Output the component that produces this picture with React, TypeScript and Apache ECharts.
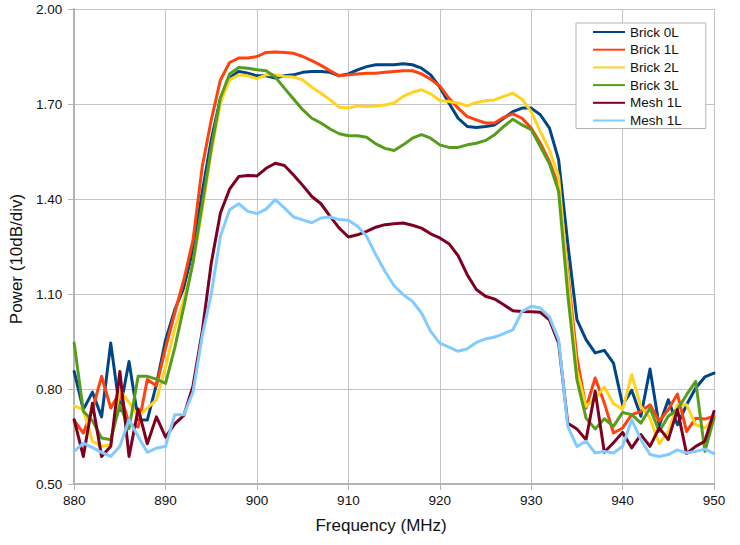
import React, { useEffect, useRef } from "react";
import * as echarts from "echarts";

const FREQ = [
  880, 881, 882, 883, 884, 885, 886, 887, 888, 889,
  890, 891, 892, 893, 894, 895, 896, 897, 898, 899,
  900, 901, 902, 903, 904, 905, 906, 907, 908, 909,
  910, 911, 912, 913, 914, 915, 916, 917, 918, 919,
  920, 921, 922, 923, 924, 925, 926, 927, 928, 929,
  930, 931, 932, 933, 934, 935, 936, 937, 938, 939,
  940, 941, 942, 943, 944, 945, 946, 947, 948, 949,
  950,
];

const BRICK_0L = [
  0.855, 0.735, 0.79, 0.712, 0.945, 0.732, 0.887, 0.703, 0.702, 0.815,
  0.955, 1.05, 1.12, 1.24, 1.42, 1.587, 1.718, 1.782, 1.803, 1.797,
  1.789, 1.789, 1.782, 1.789, 1.792, 1.8, 1.803, 1.803, 1.8, 1.789,
  1.795, 1.808, 1.818, 1.824, 1.824, 1.824, 1.827, 1.824, 1.813, 1.792,
  1.753, 1.703, 1.655, 1.629, 1.626, 1.629, 1.634, 1.655, 1.676, 1.687,
  1.687, 1.666, 1.624, 1.524, 1.26, 1.019, 0.956, 0.914, 0.922, 0.882,
  0.75, 0.796, 0.714, 0.863, 0.684, 0.766, 0.687, 0.75, 0.803, 0.838,
  0.85,
];

const BRICK_1L = [
  0.701, 0.661, 0.735, 0.84, 0.74, 0.79, 0.69, 0.68, 0.83, 0.81,
  0.93, 1.04, 1.145, 1.27, 1.5, 1.65, 1.776, 1.831, 1.845, 1.845,
  1.85, 1.863, 1.864, 1.863, 1.86, 1.85, 1.837, 1.822, 1.805, 1.789,
  1.792, 1.795, 1.797, 1.797, 1.8, 1.803, 1.805, 1.805, 1.795, 1.778,
  1.757, 1.718, 1.687, 1.66, 1.65, 1.64, 1.64, 1.658, 1.669, 1.655,
  1.624, 1.576, 1.518, 1.44, 1.17, 0.9, 0.74, 0.835, 0.756, 0.661,
  0.677, 0.719, 0.729, 0.75, 0.698, 0.735, 0.784, 0.666, 0.708, 0.705,
  0.714,
];

const BRICK_2L = [
  0.747, 0.735, 0.635, 0.619, 0.624, 0.8, 0.758, 0.713, 0.74, 0.766,
  0.87, 0.99, 1.082, 1.198, 1.366, 1.55, 1.703, 1.776, 1.792, 1.789,
  1.78, 1.792, 1.792, 1.787, 1.785, 1.776, 1.753, 1.734, 1.713, 1.69,
  1.687, 1.694, 1.692, 1.694, 1.697, 1.703, 1.724, 1.737, 1.745, 1.732,
  1.711, 1.708, 1.703, 1.694, 1.705, 1.71, 1.713, 1.724, 1.734, 1.715,
  1.676, 1.613, 1.555, 1.471, 1.15, 0.86, 0.745, 0.771, 0.806, 0.754,
  0.735, 0.845, 0.745, 0.708, 0.627, 0.666, 0.75, 0.75, 0.687, 0.677,
  0.708,
];

const BRICK_3L = [
  0.945, 0.73, 0.7, 0.645, 0.64, 0.75, 0.675, 0.84, 0.84, 0.831,
  0.818, 0.93, 1.06, 1.2, 1.38, 1.56, 1.72, 1.795, 1.815, 1.813,
  1.808, 1.805, 1.785, 1.75, 1.716, 1.682, 1.655, 1.64, 1.621, 1.606,
  1.6, 1.6, 1.595, 1.574, 1.56, 1.553, 1.571, 1.592, 1.603, 1.592,
  1.571, 1.563, 1.563, 1.571, 1.576, 1.585, 1.603, 1.629, 1.652, 1.634,
  1.619, 1.566, 1.511, 1.424, 1.1, 0.83, 0.708, 0.674, 0.706, 0.682,
  0.726, 0.719, 0.692, 0.74, 0.666, 0.714, 0.735, 0.782, 0.824, 0.603,
  0.708,
];

const MESH_1L_A = [
  0.703, 0.587, 0.755, 0.587, 0.619, 0.855, 0.587, 0.737, 0.627, 0.712,
  0.648, 0.69, 0.717, 0.81, 0.98, 1.198, 1.356, 1.431, 1.471, 1.474,
  1.473, 1.497, 1.513, 1.506, 1.476, 1.443, 1.408, 1.385, 1.345, 1.308,
  1.28, 1.287, 1.298, 1.311, 1.319, 1.322, 1.324, 1.317, 1.308, 1.29,
  1.277, 1.259, 1.221, 1.161, 1.114, 1.093, 1.084, 1.066, 1.047, 1.045,
  1.044, 1.042, 1.018, 0.945, 0.692, 0.674, 0.64, 0.793, 0.6, 0.63,
  0.663, 0.614, 0.656, 0.619, 0.677, 0.64, 0.735, 0.596, 0.619, 0.635,
  0.729,
];

const MESH_1L_B = [
  0.603, 0.629, 0.615, 0.6, 0.587, 0.619, 0.703, 0.65, 0.6, 0.613,
  0.619, 0.719, 0.719, 0.79, 0.966, 1.1, 1.282, 1.366, 1.385, 1.361,
  1.354, 1.368, 1.398, 1.372, 1.343, 1.334, 1.325, 1.34, 1.343, 1.335,
  1.333, 1.314, 1.282, 1.224, 1.172, 1.126, 1.098, 1.077, 1.04, 0.982,
  0.945, 0.932, 0.919, 0.927, 0.947, 0.958, 0.964, 0.975, 0.987, 1.045,
  1.061, 1.056, 1.027, 0.956, 0.682, 0.619, 0.635, 0.598, 0.603, 0.598,
  0.619, 0.703, 0.64, 0.593, 0.587, 0.593, 0.608, 0.598, 0.603, 0.61,
  0.596,
];

const SERIES_NAMES = ["Brick 0L", "Brick 1L", "Brick 2L", "Brick 3L", "Mesh 1L", "Mesh 1L "];
const SERIES_DATA = [BRICK_0L, BRICK_1L, BRICK_2L, BRICK_3L, MESH_1L_A, MESH_1L_B];
const COLORS = ["#004586", "#ff420e", "#ffd320", "#579d1c", "#7e0021", "#83caff"];

const X_NAME = "Frequency (MHz)";
const Y_NAME = "Power (10dB/div)";

const FONT = "'Liberation Sans', Arial, sans-serif";

export default function App() {
  const ref = useRef<HTMLDivElement>(null);

  useEffect(() => {
    if (!ref.current) return;
    const chart = echarts.init(ref.current, undefined, { renderer: "svg" });
    const series = SERIES_DATA.map((vals, i) => ({
      name: SERIES_NAMES[i],
      type: "line",
      data: FREQ.map((f, j) => [f, vals[j]]),
      symbol: "none",
      smooth: false,
      lineStyle: { color: COLORS[i], width: 3, join: "round", cap: "round" },
      itemStyle: { color: COLORS[i] },
      emphasis: { disabled: true },
    }));
    chart.setOption({
      animation: false,
      backgroundColor: "#ffffff",
      textStyle: { fontFamily: FONT },
      grid: { left: 70, right: 26, top: 9, bottom: 61, containLabel: false },
      legend: {
        orient: "vertical",
        left: 576,
        top: 23,
        padding: [2, 24, 1, 17],
        itemGap: 3.7,
        itemWidth: 32,
        itemHeight: 2,
        icon: "rect",
        backgroundColor: "#ffffff",
        borderColor: "#b3b3b3",
        borderWidth: 1,
        textStyle: { fontSize: 13.5, color: "#111", fontFamily: FONT, lineHeight: 14 },
        data: SERIES_NAMES,
        formatter: (n: string) => n.trim(),
      },
      xAxis: {
        type: "value",
        min: 880,
        max: 950,
        interval: 10,
        name: X_NAME,
        nameLocation: "middle",
        nameGap: 33,
        nameTextStyle: { fontSize: 17, color: "#111", fontFamily: FONT, padding: [0, 26, 0, 0] },
        axisLine: { show: true, lineStyle: { color: "#b3b3b3", width: 2 } },
        axisTick: { show: true, length: 6, lineStyle: { color: "#b3b3b3", width: 1 } },
        axisLabel: { fontSize: 13.5, color: "#111", margin: 9, fontFamily: FONT },
        splitLine: { show: true, lineStyle: { color: "#c4c4c4", width: 1 } },
      },
      yAxis: {
        type: "value",
        min: 0.5,
        max: 2.0,
        interval: 0.3,
        name: Y_NAME,
        nameLocation: "middle",
        nameGap: 41,
        nameTextStyle: { fontSize: 17, color: "#111", fontFamily: FONT, padding: [0, 25, 0, 0] },
        axisLine: { show: true, lineStyle: { color: "#b3b3b3", width: 2 } },
        axisTick: { show: true, length: 6, lineStyle: { color: "#b3b3b3", width: 1 } },
        axisLabel: {
          fontSize: 13.5,
          color: "#111",
          margin: 12,
          fontFamily: FONT,
          formatter: (v: number) => v.toFixed(2),
        },
        splitLine: { show: true, lineStyle: { color: "#c4c4c4", width: 1 } },
      },
      series,
    });
    return () => chart.dispose();
  }, []);

  return (
    <div
      ref={ref}
      style={{ position: "fixed", left: 0, top: 0, width: 740, height: 545, background: "#fff" }}
    />
  );
}
